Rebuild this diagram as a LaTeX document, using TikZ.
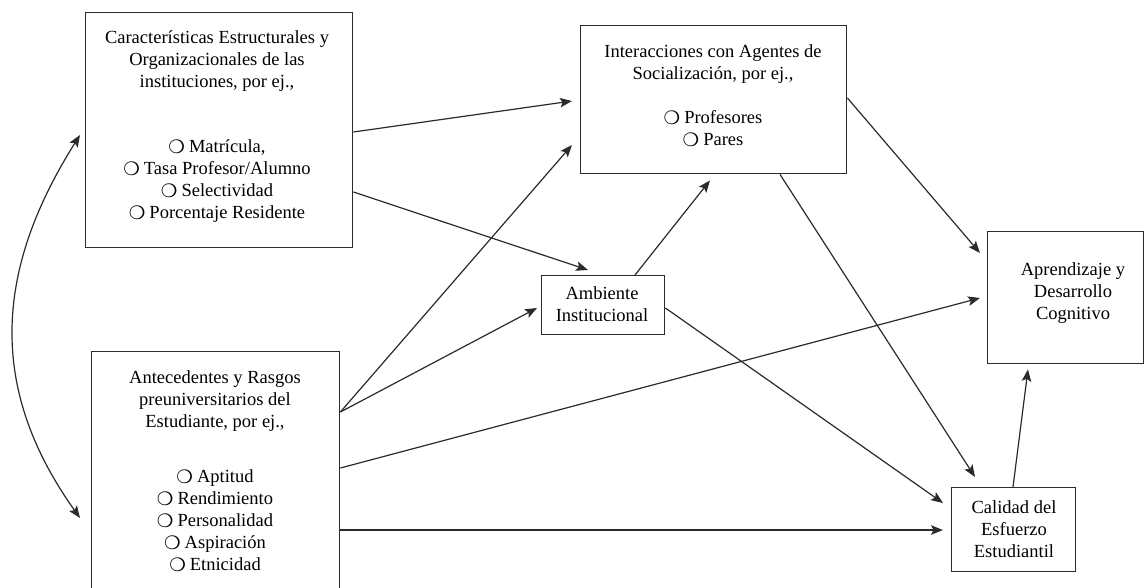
\documentclass[tikz,border=0pt]{standalone}
\usepackage{fontspec}
\setmainfont{Liberation Serif}
\newfontfamily\dingfont{DejaVu Sans}
\usetikzlibrary{arrows.meta,calc}
\newcommand\bul{\raisebox{-0.8pt}{\dingfont\fontsize{18.5}{18.5}\selectfont ❍}\hspace{4pt}}
\definecolor{ink}{HTML}{2B2B2B}
\tikzset{
  box/.style={draw=ink, line width=1.4pt, rectangle, inner sep=0pt, anchor=north west},
  txt/.style={align=center, font=\fontsize{18.5}{22}\selectfont, text=black, inner sep=0pt},
  link/.style={draw=ink, line width=1.2pt, -{Stealth[length=12pt,width=9.5pt,inset=2.5pt]}},
}
\begin{document}
\begin{tikzpicture}[x=1pt,y=-1pt]
\useasboundingbox (0,0) rectangle (1144,588);
\fill[white] (0,0) rectangle (1144,588);
\clip (0,0) rectangle (1144,588);

% boxes
\node[box, minimum width=267pt, minimum height=235pt] (A) at (85,12) {};
\node[box, minimum width=248pt, minimum height=260pt] (B) at (91,351) {};
\node[box, minimum width=266pt, minimum height=148pt] (C) at (580,25) {};
\node[box, minimum width=123pt, minimum height=59pt] (D) at (541,275) {};
\node[box, minimum width=156pt, minimum height=132pt] (E) at (987,231) {};
\node[box, minimum width=124pt, minimum height=84pt] (F) at (951,487) {};

% texts
\node[txt] (At) at (217,127) {Características Estructurales y\\Organizacionales de las\\instituciones, por ej.,\\[43pt]
  \bul Matrícula,\\\bul Tasa Profesor/Alumno\\\bul Selectividad\\\bul Porcentaje Residente};
\node[txt] (Bt) at (215,471) {Antecedentes y Rasgos\\preuniversitarios del\\Estudiante, por ej.,\\[33pt]
  \bul Aptitud\\\bul Rendimiento\\\bul Personalidad\\\bul Aspiración\\\bul Etnicidad};
\node[txt] (Ct) at (713,96) {Interacciones con Agentes de\\Socialización, por ej.,\\[22pt]
  \bul Profesores\\\bul Pares};
\node[txt] (Dt) at (602,304) {Ambiente\\Institucional};
\node[txt] (Et) at (1073,293) {Aprendizaje y\\Desarrollo\\Cognitivo};
\node[txt] (Ft) at (1014,529) {Calidad del\\Esfuerzo\\Estudiantil};

% connectors
\draw[link] ($(A.north east)+(0,120)$) -- ($(C.north west)+(-8,76)$);
\draw[link] ($(A.north east)+(0,180)$) -- ($(D.north west)+(47,-5)$);
\draw[link] ($(B.north east)+(0,61)$) -- ($(C.north west)+(-8,120)$);
\draw[link] ($(B.north east)+(0,61)$) -- ($(D.north west)+(-4,33)$);
\draw[link] ($(D.north west)+(94,0)$) -- ($(C.south west)+(130,6)$);
\draw[link] ($(B.north east)+(0,117)$) -- ($(E.north west)+(-7,67)$);
\draw[link] ($(B.north east)+(0,179)$) -- ($(F.north west)+(-8,43)$);
\draw[link] ($(D.north east)+(0,33)$) -- ($(F.north west)+(-8,16)$);
\draw[link] ($(C.north east)+(0,73)$) -- ($(E.north west)+(-7,22)$);
\draw[link] ($(C.south west)+(200,0)$) -- ($(F.north west)+(24,-10)$);
\draw[link] ($(F.north west)+(62,0)$) -- ($(E.south west)+(41,5)$);

% correlation between the two input blocks
\draw[draw=ink, line width=1.2pt, {Stealth[length=12pt,width=9.5pt,inset=2.5pt]}-{Stealth[length=12pt,width=9.5pt,inset=2.5pt]}]
  ($(A.north west)+(-5,123)$) .. controls (-9,276) and (-9,393) .. ($(B.north west)+(-11,167)$);
\end{tikzpicture}
\end{document}
